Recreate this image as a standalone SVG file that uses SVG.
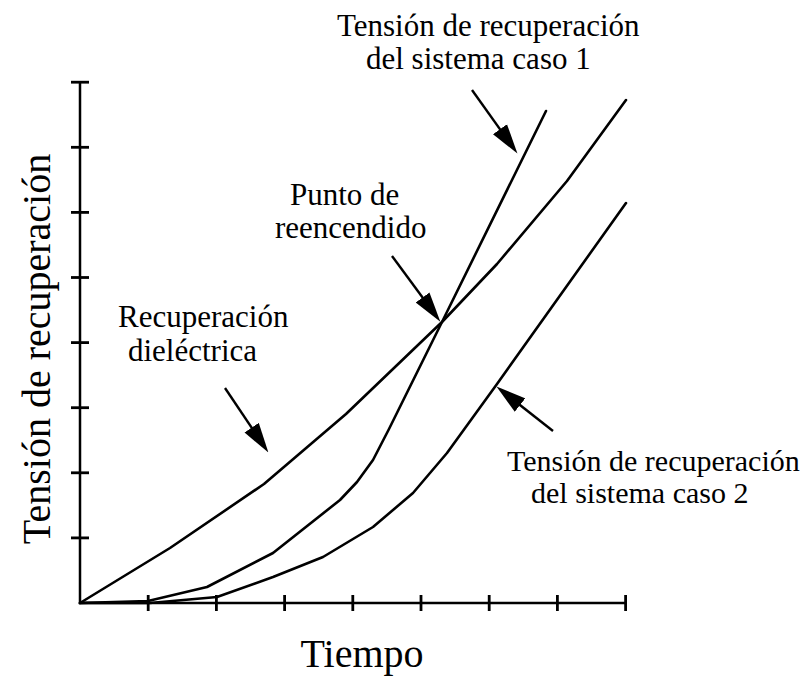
<svg xmlns="http://www.w3.org/2000/svg" width="810" height="677" viewBox="0 0 810 677">
  <style>
    .ax { stroke: #000; stroke-width: 2.5; fill: none; }
    .tk { stroke: #000; stroke-width: 2.8; }
    .cv { stroke: #000; stroke-width: 2.6; fill: none; stroke-linejoin: round; stroke-linecap: round; }
    .ar { stroke: #000; stroke-width: 2.4; fill: none; marker-end: url(#head); }
    .lb { font-family: "Liberation Serif", "Times New Roman", serif; font-size: 31px; fill: #000; }
    .big { font-family: "Liberation Serif", "Times New Roman", serif; font-size: 40px; fill: #000; }
  </style>
  <defs>
    <marker id="head" markerUnits="userSpaceOnUse" markerWidth="30" markerHeight="18" refX="18" refY="8" orient="auto" viewBox="0 0 28 16">
      <path d="M0,0 L28,8 L0,16 Z" fill="#000"/>
    </marker>
  </defs>
  <rect width="810" height="677" fill="#fff"/>

  <g id="axes">
    <path class="ax" d="M80,82 L80,603 L626,603"/>
    <g id="y-ticks" class="tk">
      <line x1="71" y1="537.9" x2="89" y2="537.9"/>
      <line x1="71" y1="472.8" x2="89" y2="472.8"/>
      <line x1="71" y1="407.7" x2="89" y2="407.7"/>
      <line x1="71" y1="342.6" x2="89" y2="342.6"/>
      <line x1="71" y1="277.5" x2="89" y2="277.5"/>
      <line x1="71" y1="212.4" x2="89" y2="212.4"/>
      <line x1="71" y1="147.3" x2="89" y2="147.3"/>
      <line x1="71" y1="82.2" x2="89" y2="82.2"/>
    </g>
    <g id="x-ticks" class="tk">
      <line x1="148.2" y1="595" x2="148.2" y2="611"/>
      <line x1="216.4" y1="595" x2="216.4" y2="611"/>
      <line x1="284.6" y1="595" x2="284.6" y2="611"/>
      <line x1="352.8" y1="595" x2="352.8" y2="611"/>
      <line x1="421" y1="595" x2="421" y2="611"/>
      <line x1="489.2" y1="595" x2="489.2" y2="611"/>
      <line x1="557.4" y1="595" x2="557.4" y2="611"/>
      <line x1="625.6" y1="595" x2="625.6" y2="611"/>
    </g>
    <text class="big" x="362" y="667" text-anchor="middle">Tiempo</text>
    <text class="big" transform="translate(50,349) rotate(-90)" text-anchor="middle">Tensión de recuperación</text>
  </g>

  <g id="curve-dielectric">
    <polyline class="cv" points="80,603 170,548 264,484 346,414 442,322 497,264 567,181 626,100"/>
  </g>
  <g id="curve-case1">
    <polyline class="cv" points="80,603 148,601 207,587 273,553 340,500 357,482 373,460 389,429 442,322 546,111"/>
  </g>
  <g id="curve-case2">
    <polyline class="cv" points="80,603 150,603 217,597 273,577 323,557 373,527 413,493 447,453 497,384 626,203"/>
  </g>

  <g id="connectors">
    <line class="ar" x1="472" y1="90" x2="511.2" y2="144.9"/>
    <line class="ar" x1="392" y1="256" x2="434" y2="313"/>
    <line class="ar" x1="225" y1="388" x2="262.4" y2="443.7"/>
    <line class="ar" x1="553" y1="431" x2="504.9" y2="393.2"/>
  </g>

  <g id="label-case1">
    <text class="lb"><tspan x="337" y="36">Tensión de recuperación</tspan><tspan x="366" y="69">del sistema caso 1</tspan></text>
  </g>
  <g id="label-reencendido">
    <text class="lb"><tspan x="290" y="205">Punto de</tspan><tspan x="275" y="238">reencendido</tspan></text>
  </g>
  <g id="label-dielectric">
    <text class="lb"><tspan x="118" y="327">Recuperación</tspan><tspan x="128" y="361">dieléctrica</tspan></text>
  </g>
  <g id="label-case2">
    <text class="lb" style="font-size:30px"><tspan x="507" y="471">Tensión de recuperación</tspan><tspan x="531" y="503">del sistema caso 2</tspan></text>
  </g>
</svg>
